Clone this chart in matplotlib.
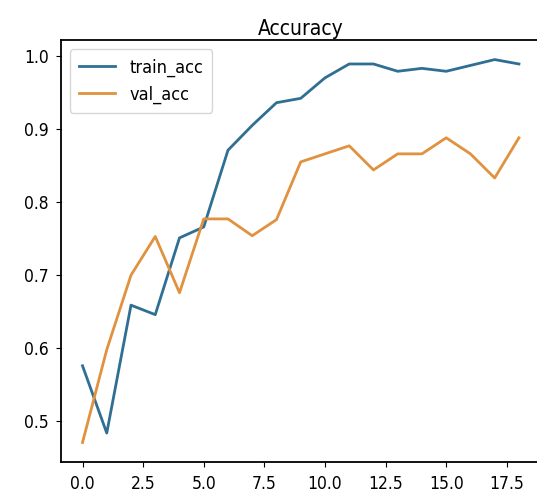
import matplotlib
matplotlib.use("Agg")
import matplotlib.pyplot as plt

# values
epochs = list(range(19))
train_acc = [0.576, 0.484, 0.659, 0.646, 0.751, 0.766, 0.871, 0.905, 0.936,
             0.942, 0.970, 0.989, 0.989, 0.979, 0.983, 0.979, 0.987, 0.995,
             0.989]
val_acc = [0.471, 0.598, 0.700, 0.753, 0.676, 0.777, 0.777, 0.754, 0.776,
           0.855, 0.866, 0.877, 0.844, 0.866, 0.866, 0.888, 0.866, 0.833,
           0.888]

plt.rcParams['font.family'] = ['DejaVu Sans']
plt.rcParams['font.stretch'] = 'condensed'

fig = plt.figure(figsize=(5.37, 4.95), dpi=100)
# the reference is cropped on the right, so the axes run past the figure edge
ax = fig.add_axes([0.113, 0.0673, 0.894, 0.851])

ax.plot(epochs, train_acc, color='#2f6f93', lw=2.0, label='train_acc')
ax.plot(epochs, val_acc, color='#e0923f', lw=2.0, label='val_acc')

ax.set_title('Accuracy', fontsize=15, pad=4)
ax.set_yticks([0.5, 0.6, 0.7, 0.8, 0.9, 1.0])
ax.tick_params(axis='both', labelsize=12.5)
ax.tick_params(axis='x', pad=6)
ax.tick_params(axis='y', pad=5)
for sp in ax.spines.values():
    sp.set_linewidth(1.3)
ax.spines['right'].set_visible(False)

ax.legend(loc='upper left', fontsize=13, borderpad=0.5)

fig.savefig('out.png', dpi=100)
